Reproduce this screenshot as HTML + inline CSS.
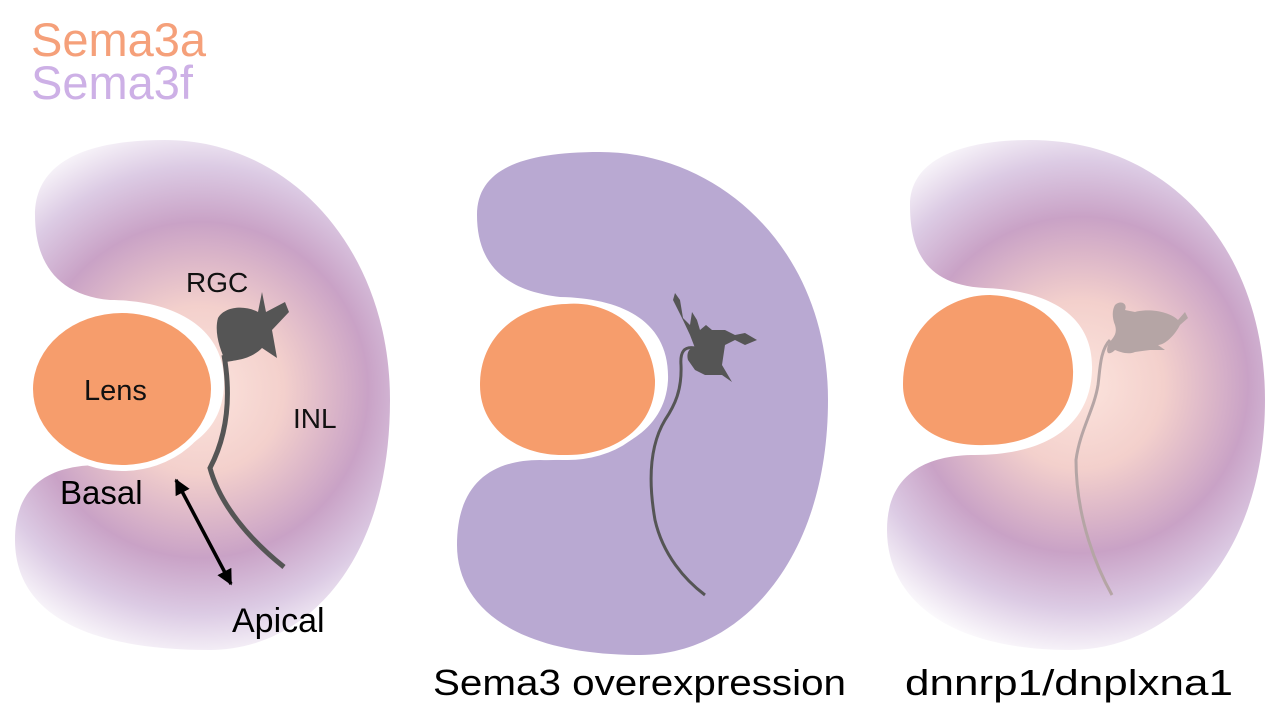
<!DOCTYPE html>
<html><head><meta charset="utf-8"><style>
html,body{margin:0;padding:0;background:#fff;}
svg{display:block;}
text{font-family:"Liberation Sans",sans-serif;}
</style></head><body>
<svg width="1280" height="714" viewBox="0 0 1280 714" xmlns="http://www.w3.org/2000/svg">
<defs>
<radialGradient id="gL" gradientUnits="userSpaceOnUse" cx="200" cy="390" r="280">
<stop offset="0" stop-color="#fce4dd"/>
<stop offset="0.3" stop-color="#f3d0cc"/>
<stop offset="0.6" stop-color="#c9a2c6"/>
<stop offset="0.8" stop-color="#dccbe4"/>
<stop offset="1" stop-color="#ffffff"/>
</radialGradient>
<radialGradient id="gR" gradientUnits="userSpaceOnUse" cx="1080" cy="385" r="280">
<stop offset="0" stop-color="#fce4dd"/>
<stop offset="0.3" stop-color="#f3d0cc"/>
<stop offset="0.6" stop-color="#c9a2c6"/>
<stop offset="0.8" stop-color="#dccbe4"/>
<stop offset="1" stop-color="#ffffff"/>
</radialGradient>
<marker id="ah" viewBox="0 0 10 10" refX="9" refY="5" markerWidth="4.5" markerHeight="4.5" orient="auto-start-reverse">
<path d="M0,0 L10,5 L0,10 Z" fill="#000"/>
</marker>
</defs>

<text x="31" y="56" font-size="47" fill="#f5a07a">Sema3a</text>
<text x="31" y="99" font-size="47" fill="#cdb0e6">Sema3f</text>

<!-- Left retina -->
<path d="M 110,300 C 55,295 35,260 35,215 C 35,165 80,140 165,140 C 290,140 390,250 390,400 C 390,570 300,650 210,650 C 80,650 15,610 15,540 C 15,485 50,465 100,465 C 165,465 222,445 224,385 C 226,325 170,300 110,300 Z" fill="url(#gL)"/>
<ellipse cx="122" cy="389" rx="89" ry="76" fill="#f69d6c" stroke="#fff" stroke-width="12"/>
<ellipse cx="122" cy="389" rx="89" ry="76" fill="#f69d6c"/>
<path d="M218,318 C225,306 245,305 258,312 L262,292 L266,312 L285,302 L289,312 L272,330 L277,358 L262,348 C250,360 235,360 226,362 C220,350 214,332 218,318 Z" fill="#555"/>
<path d="M224,355 C230,390 230,430 210,468 C220,505 250,540 284,567" fill="none" stroke="#555" stroke-width="5"/>
<text x="186" y="292" font-size="28" fill="#111">RGC</text>
<text x="84" y="400" font-size="29" fill="#111">Lens</text>
<text x="293" y="428" font-size="28" fill="#111">INL</text>
<text x="60" y="504" font-size="33" fill="#000">Basal</text>
<text x="232" y="632" font-size="34" fill="#000">Apical</text>
<line x1="176" y1="480" x2="231" y2="584" stroke="#000" stroke-width="3.5" marker-start="url(#ah)" marker-end="url(#ah)"/>

<!-- Middle retina -->
<path d="M 560,297 C 500,290 477,260 477,215 C 477,170 520,152 600,152 C 720,152 828,250 828,400 C 828,560 740,655 640,655 C 520,655 457,610 457,545 C 457,485 490,460 540,460 C 600,462 665,440 668,380 C 670,320 620,298 560,297 Z" fill="#b9a9d2"/>
<path d="M 566,304 C 610,300 652,330 655,380 C 656,430 610,456 565,455 C 520,456 480,430 480,385 C 480,335 520,305 566,304 Z" fill="#f69d6c" stroke="#fff" stroke-width="10"/>
<path d="M 566,304 C 610,300 652,330 655,380 C 656,430 610,456 565,455 C 520,456 480,430 480,385 C 480,335 520,305 566,304 Z" fill="#f69d6c"/>
<path d="M675,293 L680,300 L683,318 L690,325 L692,312 L697,320 L700,330 L706,325 L712,330 L725,330 L735,335 L745,333 L757,340 L745,345 L735,340 L725,345 L722,365 L732,382 L722,375 L705,375 L695,370 L688,360 C686,352 690,347 695,348 L690,335 L682,318 L673,300 Z" fill="#555"/>
<path d="M695,348 C684,346 680,352 681,365 C682,390 675,405 665,420 C650,445 648,480 655,520 C663,555 685,580 705,595" fill="none" stroke="#555" stroke-width="3"/>
<text x="433" y="695" font-size="36" fill="#000" textLength="413" lengthAdjust="spacingAndGlyphs">Sema3 overexpression</text>

<!-- Right retina -->
<path d="M 985,288 C 925,285 910,250 910,205 C 910,160 960,140 1030,140 C 1170,140 1265,250 1265,400 C 1265,560 1170,650 1070,650 C 950,650 887,600 887,530 C 887,475 925,455 975,455 C 1040,455 1090,430 1092,370 C 1094,310 1040,290 985,288 Z" fill="url(#gR)"/>
<path d="M 990,295 C 1040,297 1075,330 1073,375 C 1072,420 1035,445 985,445 C 935,447 903,420 903,385 C 903,330 945,295 990,295 Z" fill="#f69d6c" stroke="#fff" stroke-width="10"/>
<path d="M 990,295 C 1040,297 1075,330 1073,375 C 1072,420 1035,445 985,445 C 935,447 903,420 903,385 C 903,330 945,295 990,295 Z" fill="#f69d6c"/>
<path d="M1115,305 C1120,300 1128,303 1125,310 L1135,312 C1150,308 1170,312 1178,320 L1185,312 L1188,318 L1180,325 C1175,335 1165,345 1158,345 L1165,350 L1150,350 L1135,352 C1128,355 1120,352 1115,350 C1110,355 1105,355 1108,345 C1112,338 1118,335 1115,325 C1112,318 1112,310 1115,305 Z" fill="#b5a5a5"/>
<path d="M1110,340 C1100,350 1100,370 1098,385 C1094,410 1080,430 1076,460 C1076,520 1098,570 1112,595" fill="none" stroke="#b5a5a5" stroke-width="3"/>
<text x="905" y="695" font-size="36" fill="#000" textLength="328" lengthAdjust="spacingAndGlyphs">dnnrp1/dnplxna1</text>
</svg>
</body></html>
